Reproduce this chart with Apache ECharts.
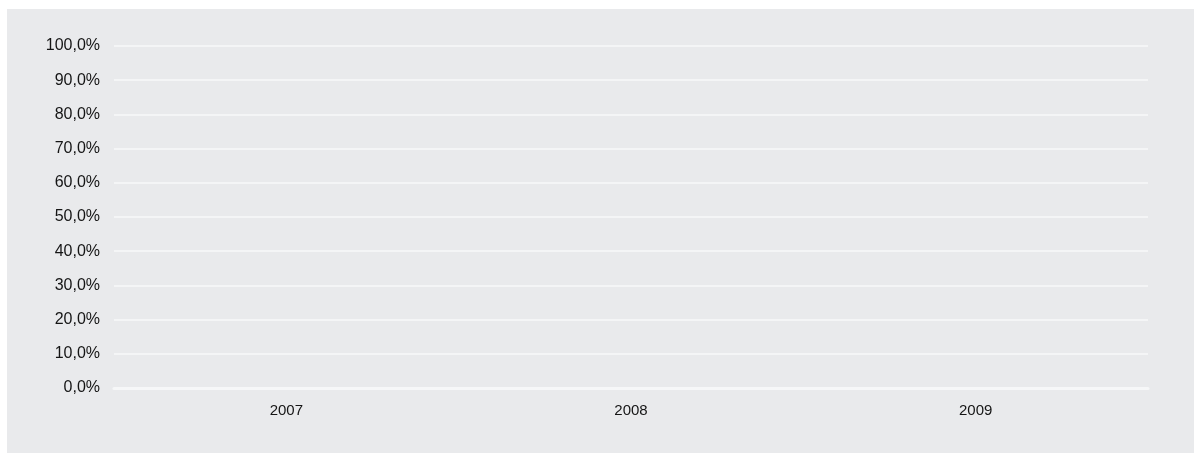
<!DOCTYPE html>
<html>
<head>
<meta charset="utf-8">
<script src="https://cdn.jsdelivr.net/npm/echarts@6/dist/echarts.min.js"></script>
<style>
  html, body { margin: 0; padding: 0; background: #ffffff; }
  #chart { width: 1194px; height: 453px; }
</style>
</head>
<body>
<div id="chart"></div>
<script>
// Years on the category axis
const years = ['2007', '2008', '2009'];
// Share per year (no values reported yet)
const shareValues = [null, null, null];
// Percentage axis ticks (fractions of 1)
const yMin = 0;
const yMax = 1;
const yStep = 0.1;

function formatPercent(v) {
  return (v * 100).toFixed(1).replace('.', ',') + '%';
}

const chart = echarts.init(document.getElementById('chart'), null, { renderer: 'canvas' });

chart.setOption({
  backgroundColor: '#ffffff',
  animation: false,
  graphic: [{
    type: 'rect',
    z: -10,
    silent: true,
    shape: { x: 7, y: 9, width: 1187, height: 444 },
    style: { fill: '#e9eaec' }
  }],
  grid: { left: 114, right: 46, top: 46, bottom: 65, containLabel: false },
  xAxis: {
    type: 'category',
    data: years,
    axisLine: { show: true, lineStyle: { color: '#f6f7f8', width: 3 } },
    axisTick: { show: false },
    axisLabel: {
      color: '#151515',
      fontFamily: 'Liberation Sans, Arial, sans-serif',
      fontSize: 15,
      margin: 15
    },
    splitLine: { show: false }
  },
  yAxis: {
    type: 'value',
    min: yMin,
    max: yMax,
    interval: yStep,
    axisLine: { show: false },
    axisTick: { show: false },
    axisLabel: {
      color: '#151515',
      fontFamily: 'Liberation Sans, Arial, sans-serif',
      fontSize: 16,
      margin: 14,
      formatter: formatPercent
    },
    splitLine: { show: true, lineStyle: { color: '#f4f5f6', width: 2 } }
  },
  series: [{
    type: 'bar',
    data: shareValues,
    itemStyle: { color: '#4a7ebb' }
  }]
});
</script>
</body>
</html>
